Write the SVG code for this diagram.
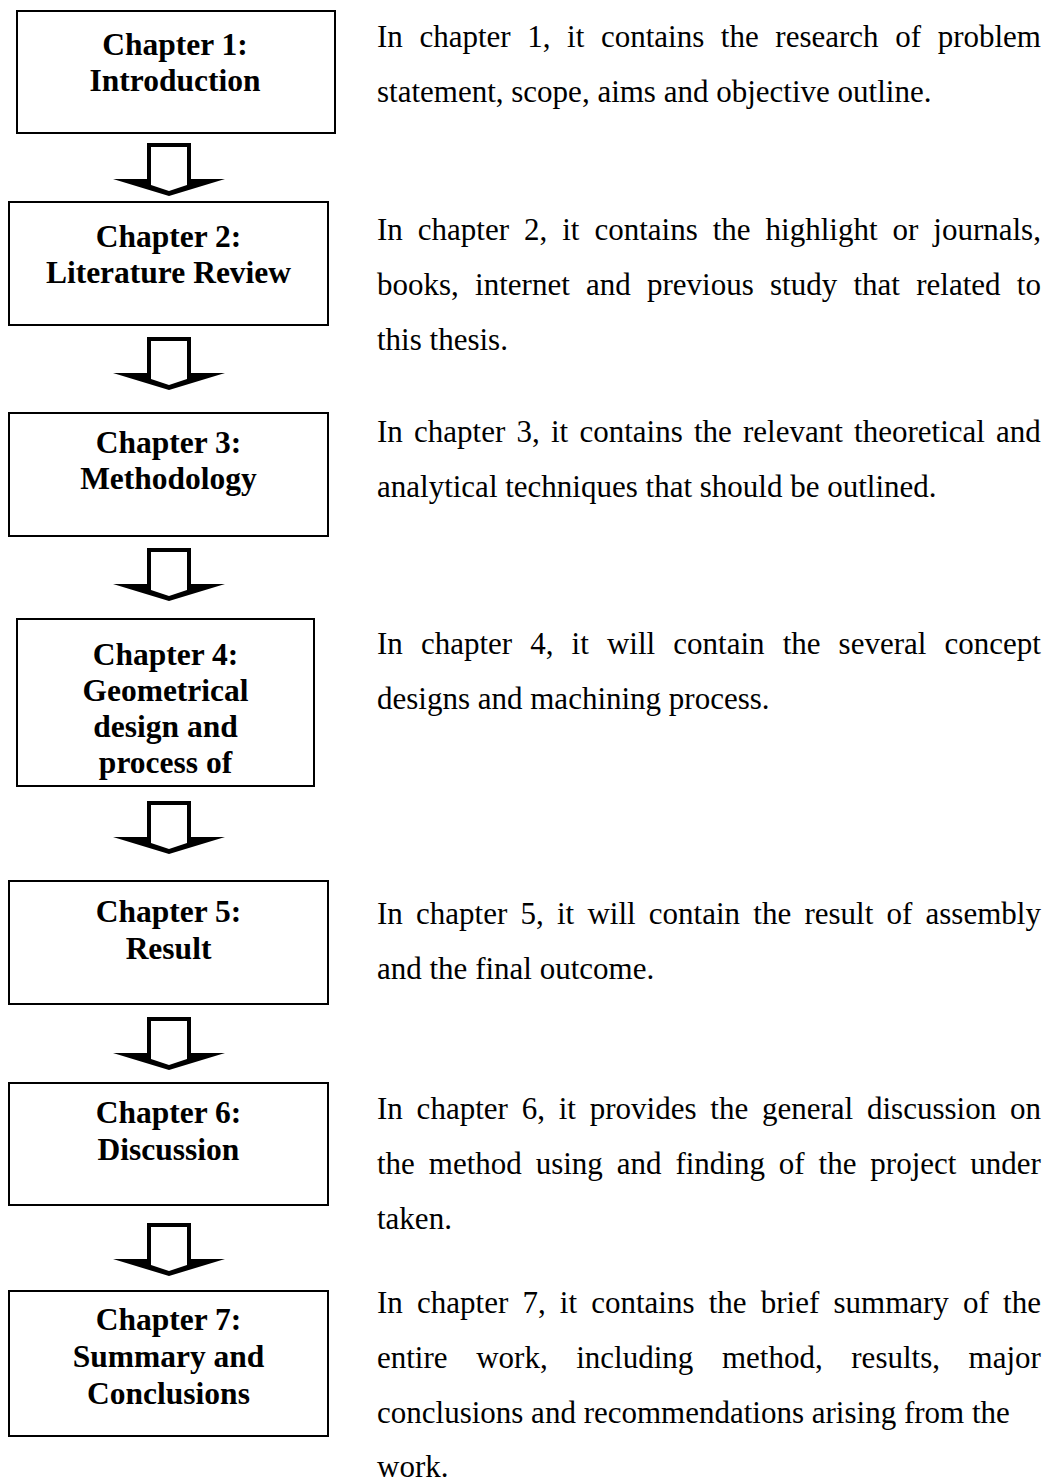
<svg xmlns="http://www.w3.org/2000/svg" width="1051" height="1483" viewBox="0 0 1051 1483">
<style>
  .box { fill: #fff; stroke: #000; stroke-width: 2; }
  .title { font-family: 'Liberation Serif', 'Times New Roman', serif; font-weight: bold; font-size: 31.5px; fill: #000; text-anchor: middle; }
  .body { font-family: 'Liberation Serif', 'Times New Roman', serif; font-size: 31px; fill: #000; }
  .arrow-out { fill: #000; }
  .arrow-in { fill: #fff; }
</style>
<defs>
  <g id="blockArrow">
    <polygon class="arrow-out" points="147,0 191,0 191,36 225,36 169,53 113,36 147,36"/>
    <polygon class="arrow-in" points="151,4 187,4 187,42 169,48 151,42"/>
  </g>
</defs>
<rect width="1051" height="1483" fill="#fff"/>

<g id="connectors">
  <use href="#blockArrow" transform="translate(0,143)"/>
  <use href="#blockArrow" transform="translate(0,337)"/>
  <use href="#blockArrow" transform="translate(0,548)"/>
  <use href="#blockArrow" transform="translate(0,801)"/>
  <use href="#blockArrow" transform="translate(0,1017)"/>
  <use href="#blockArrow" transform="translate(0,1223)"/>
</g>

<g id="node-ch1">
  <rect class="box" x="17" y="11" width="318" height="122"/>
  <text class="title" x="175" y="55">Chapter 1:</text>
  <text class="title" x="175" y="91">Introduction</text>
</g>
<g id="node-ch2">
  <rect class="box" x="9" y="202" width="319" height="123"/>
  <text class="title" x="168.5" y="247">Chapter 2:</text>
  <text class="title" x="168.5" y="283">Literature Review</text>
</g>
<g id="node-ch3">
  <rect class="box" x="9" y="413" width="319" height="123"/>
  <text class="title" x="168.5" y="453">Chapter 3:</text>
  <text class="title" x="168.5" y="489">Methodology</text>
</g>
<g id="node-ch4">
  <rect class="box" x="17" y="619" width="297" height="167"/>
  <text class="title" x="165.5" y="665">Chapter 4:</text>
  <text class="title" x="165.5" y="701">Geometrical</text>
  <text class="title" x="165.5" y="737">design and</text>
  <text class="title" x="165.5" y="773">process of</text>
</g>
<g id="node-ch5">
  <rect class="box" x="9" y="881" width="319" height="123"/>
  <text class="title" x="168.5" y="922">Chapter 5:</text>
  <text class="title" x="168.5" y="959">Result</text>
</g>
<g id="node-ch6">
  <rect class="box" x="9" y="1083" width="319" height="122"/>
  <text class="title" x="168.5" y="1123">Chapter 6:</text>
  <text class="title" x="168.5" y="1160">Discussion</text>
</g>
<g id="node-ch7">
  <rect class="box" x="9" y="1291" width="319" height="145"/>
  <text class="title" x="168.5" y="1330">Chapter 7:</text>
  <text class="title" x="168.5" y="1367">Summary and</text>
  <text class="title" x="168.5" y="1404">Conclusions</text>
</g>

<g id="desc-ch1">
  <text class="body" x="377" y="47" word-spacing="8.86">In chapter 1, it contains the research of problem</text>
  <text class="body" x="377" y="102">statement, scope, aims and objective outline.</text>
</g>
<g id="desc-ch2">
  <text class="body" x="377" y="240" word-spacing="7.23">In chapter 2, it contains the highlight or journals,</text>
  <text class="body" x="377" y="295" word-spacing="8.51">books, internet and previous study that related to</text>
  <text class="body" x="377" y="350">this thesis.</text>
</g>
<g id="desc-ch3">
  <text class="body" x="377" y="442" word-spacing="3.47">In chapter 3, it contains the relevant theoretical and</text>
  <text class="body" x="377" y="497">analytical techniques that should be outlined.</text>
</g>
<g id="desc-ch4">
  <text class="body" x="377" y="654" word-spacing="10.36">In chapter 4, it will contain the several concept</text>
  <text class="body" x="377" y="709">designs and machining process.</text>
</g>
<g id="desc-ch5">
  <text class="body" x="377" y="924" word-spacing="5.47">In chapter 5, it will contain the result of assembly</text>
  <text class="body" x="377" y="979">and the final outcome.</text>
</g>
<g id="desc-ch6">
  <text class="body" x="377" y="1119" word-spacing="6.05">In chapter 6, it provides the general discussion on</text>
  <text class="body" x="377" y="1174" word-spacing="6.15">the method using and finding of the project under</text>
  <text class="body" x="377" y="1229">taken.</text>
</g>
<g id="desc-ch7">
  <text class="body" x="377" y="1313" word-spacing="6.43">In chapter 7, it contains the brief summary of the</text>
  <text class="body" x="377" y="1368" word-spacing="20.86">entire work, including method, results, major</text>
  <text class="body" x="377" y="1423">conclusions and recommendations arising from the</text>
  <text class="body" x="377" y="1477">work.</text>
</g>
</svg>
